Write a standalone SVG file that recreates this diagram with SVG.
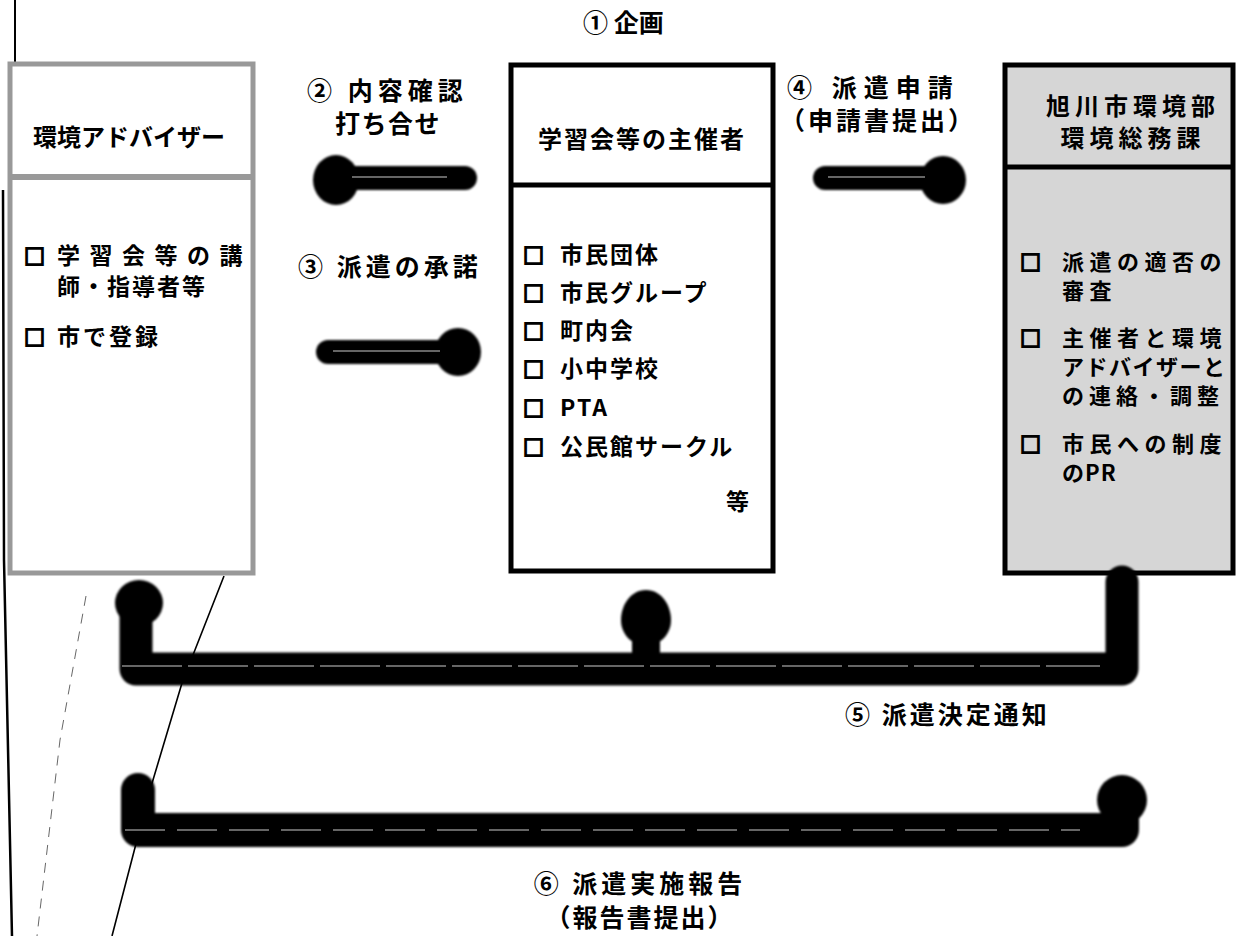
<svg xmlns="http://www.w3.org/2000/svg" width="1240" height="936" viewBox="0 0 1240 936">
<defs>
<style>
.t{font-family:"Noto Sans CJK JP","Noto Sans CJK SC",sans-serif;font-weight:700;fill:#000}
.hd{font-size:24px}
.it{font-size:23px}
.rt{font-size:22px}
.lb{font-size:25px}
.bx{font-family:"Noto Sans CJK JP","Noto Sans CJK SC",sans-serif;font-weight:700;font-size:21px;fill:none;stroke:#000;stroke-width:1.8}
.ink{stroke:#000;fill:none;stroke-linecap:round;stroke-linejoin:round}
.hl{stroke:#fff;stroke-width:1.2;opacity:.8;fill:none}
.scan{stroke:#000;fill:none}
</style>
<filter id="fz" x="-10%" y="-10%" width="120%" height="120%"><feGaussianBlur stdDeviation="1"/></filter>
</defs>
<rect width="1240" height="936" fill="#fff"/>

<g id="scan-lines">
<path class="scan" d="M15 0 L15 62" stroke-width="2"/>
<path class="scan" d="M3 190 L4 560 L12 936" stroke-width="2.5"/>
<path class="scan" d="M224 576 L182 683 L150 790 L112 936" stroke-width="1.6"/>
<path class="scan" d="M86 596 L60 740 L37 936" stroke-width="1" stroke-dasharray="10 8" opacity=".6"/>
</g>

<g id="title-1">
<text class="t lb" x="583" y="32" font-size="23">① 企画</text>
</g>

<g id="node-adviser">
<rect x="10" y="64" width="243" height="509" fill="#fff" stroke="#999" stroke-width="5"/>
<line x1="10" y1="177" x2="253" y2="177" stroke="#999" stroke-width="6"/>
<text class="t hd" x="33" y="146" font-size="23">環境アドバイザー</text>
<text class="bx" x="24" y="264">□</text>
<text class="t it" x="57" y="264" letter-spacing="9.5">学習会等の講</text>
<text class="t it" x="57" y="295" letter-spacing="2">師・指導者等</text>
<text class="bx" x="24" y="345">□</text>
<text class="t it" x="57" y="345" letter-spacing="3">市で登録</text>
</g>

<g id="node-organizer">
<rect x="511" y="65" width="262" height="506" fill="#fff" stroke="#000" stroke-width="5"/>
<line x1="511" y1="185" x2="773" y2="185" stroke="#000" stroke-width="5"/>
<text class="t hd" x="642" y="148" text-anchor="middle" letter-spacing="2">学習会等の主催者</text>
<g class="bx">
<text x="523" y="263">□</text>
<text x="523" y="301">□</text>
<text x="523" y="339">□</text>
<text x="523" y="377">□</text>
<text x="523" y="416">□</text>
<text x="523" y="455">□</text>
</g>
<text class="t it" x="560" y="263" letter-spacing="2">市民団体</text>
<text class="t it" x="560" y="301" letter-spacing="2">市民グループ</text>
<text class="t it" x="560" y="339" letter-spacing="2">町内会</text>
<text class="t it" x="560" y="377" letter-spacing="2">小中学校</text>
<text class="t it" x="560" y="416" letter-spacing="2">PTA</text>
<text class="t it" x="560" y="455" letter-spacing="2">公民館サークル</text>
<text class="t it" x="726" y="510">等</text>
</g>

<g id="node-city">
<rect x="1005" y="65" width="228" height="508" fill="#d6d6d6" stroke="#000" stroke-width="5"/>
<line x1="1005" y1="167" x2="1233" y2="167" stroke="#000" stroke-width="5"/>
<text class="t hd" x="1133" y="115" text-anchor="middle" font-size="25" letter-spacing="5">旭川市環境部</text>
<text class="t hd" x="1133" y="147" text-anchor="middle" font-size="25" letter-spacing="5">環境総務課</text>
<g class="bx">
<text x="1020" y="270">□</text>
<text x="1020" y="346">□</text>
<text x="1020" y="452">□</text>
</g>
<text class="t rt" x="1062" y="270" letter-spacing="5.5">派遣の適否の</text>
<text class="t rt" x="1062" y="299" letter-spacing="5.5">審査</text>
<text class="t rt" x="1062" y="346" letter-spacing="5.5">主催者と環境</text>
<text class="t rt" x="1062" y="375" letter-spacing="1.5">アドバイザーと</text>
<text class="t rt" x="1062" y="404" letter-spacing="5">の連絡・調整</text>
<text class="t rt" x="1062" y="452" letter-spacing="5.5">市民への制度</text>
<text class="t rt" x="1062" y="481" letter-spacing="1">のPR</text>
</g>

<g id="connectors">
<g filter="url(#fz)">
<path class="ink" d="M336 178 L465 178" stroke-width="24"/>
<ellipse cx="336" cy="180" rx="23" ry="25"/>
<path class="ink" d="M328 352 L458 352" stroke-width="24"/>
<ellipse cx="458" cy="352" rx="23" ry="24"/>
<path class="ink" d="M825 178 L943 178" stroke-width="24"/>
<ellipse cx="943" cy="180" rx="23" ry="24"/>
<path class="ink" d="M1122 582 L1122 669 L136 669 L136 600" stroke-width="33" stroke-linecap="butt"/>
<ellipse cx="139" cy="603" rx="24" ry="23"/>
<path class="ink" d="M646 669 L646 630" stroke-width="28"/>
<path d="M646 590 C662 590 671 606 671 620 C671 636 658 646 646 646 C634 646 621 636 621 620 C621 606 630 590 646 590 Z"/>
<path class="ink" d="M138 790 L138 830 L1122 830 L1122 805" stroke-width="34"/>
<ellipse cx="1122" cy="800" rx="25" ry="25"/>
</g>
<line class="hl" x1="352" y1="177" x2="447" y2="177"/>
<line class="hl" x1="333" y1="351" x2="440" y2="351"/>
<line class="hl" x1="828" y1="177" x2="925" y2="177"/>
<line class="hl" x1="122" y1="666" x2="1100" y2="666" stroke-dasharray="60 6"/>
<line class="hl" x1="125" y1="830" x2="1080" y2="830" stroke-dasharray="40 12"/>
</g>

<g id="labels">
<text class="t lb" x="307" y="100" letter-spacing="5">② 内容確認</text>
<text class="t lb" x="335" y="133" letter-spacing="1.5">打ち合せ</text>
<text class="t lb" x="298" y="276" letter-spacing="4">③ 派遣の承諾</text>
<text class="t lb" x="787" y="97" letter-spacing="7">④ 派遣申請</text>
<text class="t lb" x="780" y="130" letter-spacing="3">（申請書提出）</text>
<text class="t lb" x="845" y="724" font-size="24" letter-spacing="3">⑤ 派遣決定通知</text>
<text class="t lb" x="640" y="893" text-anchor="middle" letter-spacing="4">⑥ 派遣実施報告</text>
<text class="t lb" x="640" y="927" text-anchor="middle" font-size="24" letter-spacing="2">（報告書提出）</text>
</g>
</svg>
